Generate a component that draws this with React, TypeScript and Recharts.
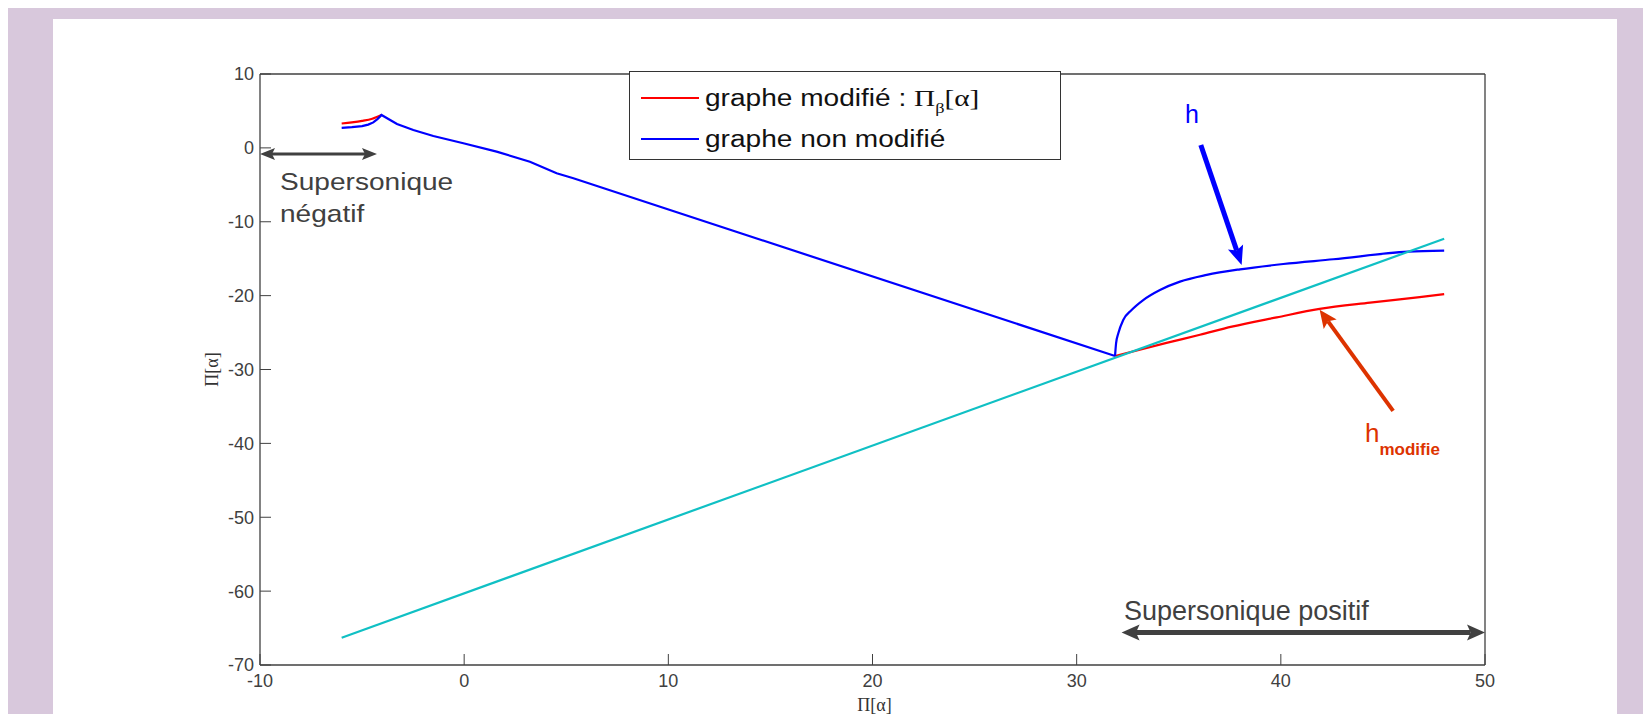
import { LineChart, Line, XAxis, YAxis, ReferenceLine, ReferenceDot } from 'recharts';

// axes
const xTicks = [-10, 0, 10, 20, 30, 40, 50];
const yTicks = [-70, -60, -50, -40, -30, -20, -10, 0, 10];

// graphe non modifié (blue): left part and branch after the cusp
const blueLeftX = [-6, -5.5, -5, -4.7, -4.45, -4.25, -4.1, -4.05, -3.29, -2.49, -1.51, -0.04, 1.59, 3.22, 4.53, 5.35, 31.88];
const blueLeftY = [2.7, 2.8, 2.95, 3.15, 3.45, 3.9, 4.3, 4.45, 3.23, 2.42, 1.61, 0.62, -0.51, -1.87, -3.44, -4.12, -28.17];
const blueRightX = [31.88, 31.93, 32.04, 32.28, 32.69, 33.26, 34.08, 35.06, 36.37, 38.0, 40.12, 42.57, 46.24, 48];
const blueRightY = [-28.17, -26.46, -25.1, -23.3, -21.95, -20.6, -19.24, -18.11, -17.2, -16.44, -15.72, -15.08, -14.05, -13.9];

// graphe modifié (red): the middle part is hidden under the blue one
const redLeftX = [-6, -5.5, -5, -4.5, -4.05];
const redLeftY = [3.3, 3.45, 3.65, 3.95, 4.45];
const redRightX = [31.88, 34.4, 36.04, 37.6, 39.8, 41.9, 44.37, 46.8, 48];
const redRightY = [-28.17, -26.4, -25.3, -24.2, -22.94, -21.8, -20.95, -20.2, -19.8];

// droite (cyan)
const cyanX = [-6, 48];
const cyanY = [-66.3, -12.3];

const zip = (xs: number[], ys: number[]) => xs.map((x, i) => ({ x, y: ys[i] }));

const GREY = '#404040';
const RED = '#ff0000';
const BLUE = '#0000ff';
const SANS = '"Liberation Sans", Arial, sans-serif';
const SERIF = '"Liberation Serif", "Times New Roman", serif';

function arrowShape(color: string, width: number, head: number, half: number, both: boolean) {
  return (p: any) => {
    const { x1, y1, x2, y2 } = p;
    const dx = x2 - x1;
    const dy = y2 - y1;
    const len = Math.hypot(dx, dy) || 1;
    const ux = dx / len;
    const uy = dy / len;
    const nx = -uy;
    const ny = ux;
    const tri = (tx: number, ty: number, dir: number) => {
      const bx = tx - dir * ux * head;
      const by = ty - dir * uy * head;
      const mx = tx - dir * ux * head * 0.8;
      const my = ty - dir * uy * head * 0.8;
      return `${tx},${ty} ${bx + nx * half},${by + ny * half} ${mx},${my} ${bx - nx * half},${by - ny * half}`;
    };
    const sx = both ? x1 + ux * head * 0.8 : x1;
    const sy = both ? y1 + uy * head * 0.8 : y1;
    return (
      <g>
        <line x1={sx} y1={sy} x2={x2 - ux * head * 0.8} y2={y2 - uy * head * 0.8} stroke={color} strokeWidth={width} />
        <polygon points={tri(x2, y2, 1)} fill={color} />
        {both && <polygon points={tri(x1, y1, -1)} fill={color} />}
      </g>
    );
  };
}

const textShape = (lines: string[], color: string, size: number, stretch: number) => (p: any) => (
  <g transform={`translate(${p.cx},${p.cy}) scale(${stretch},1)`}>
    {lines.map((t, i) => (
      <text key={i} x={0} y={i * 32} fill={color} fontSize={size} fontFamily={SANS}>
        {t}
      </text>
    ))}
  </g>
);

const hModifShape = (p: any) => (
  <text x={p.cx} y={p.cy} fill="#dd3300" fontFamily={SANS}>
    <tspan fontSize={26}>h</tspan>
    <tspan fontSize={17} fontWeight="bold" dy={13}>modifie</tspan>
  </text>
);

const xLabel = ({ viewBox }: any) => (
  <text x={viewBox.x + viewBox.width / 2 + 2} y={viewBox.y + 46} textAnchor="middle" fill="#333" fontSize={18} fontFamily={SERIF}>
    Π[α]
  </text>
);

const yLabel = ({ viewBox }: any) => {
  const cx = viewBox.x + 12;
  const cy = viewBox.y + viewBox.height / 2;
  return (
    <text x={cx} y={cy} transform={`rotate(-90 ${cx} ${cy})`} textAnchor="middle" dominantBaseline="central" fill="#333" fontSize={18} fontFamily={SERIF}>
      Π[α]
    </text>
  );
};

function LegendBox() {
  const row = (color: string, top: number, content: any) => (
    <div style={{ position: 'absolute', left: 0, top, height: 30 }}>
      <div style={{ position: 'absolute', left: 11, top: 14, width: 58, height: 2, background: color }} />
      <div style={{ position: 'absolute', left: 75, top: 0, whiteSpace: 'nowrap', fontFamily: SANS, fontSize: 23, lineHeight: '30px', color: '#111', transform: 'scaleX(1.22)', transformOrigin: 'left center' }}>
        {content}
      </div>
    </div>
  );
  return (
    <div style={{ position: 'absolute', left: 629, top: 71, width: 432, height: 89, boxSizing: 'border-box', border: '1px solid #333', background: '#fff' }}>
      {row(RED, 11, (
        <span>
          graphe modifié : <span style={{ fontFamily: SERIF, fontSize: 24 }}>Π</span>
          <span style={{ fontFamily: SERIF, fontSize: 15, verticalAlign: -7 }}>β</span>
          <span style={{ fontFamily: SERIF, fontSize: 24 }}>[α]</span>
        </span>
      ))}
      {row(BLUE, 52, <span>graphe non modifié</span>)}
    </div>
  );
}

export default function App() {
  return (
    <div style={{ position: 'relative', width: 1651, height: 722, margin: -8, background: '#d8c8dc', overflow: 'hidden' }}>
      <div style={{ position: 'absolute', left: 53, top: 19, width: 1564, height: 703, background: '#fff' }} />
      <div style={{ position: 'absolute', left: 0, top: 0 }}>
        <LineChart width={1651} height={722} margin={{ top: 73, right: 165, bottom: 11, left: 200 }}>
          <XAxis
            dataKey="x"
            type="number"
            domain={[-10, 50]}
            ticks={xTicks}
            interval={0}
            allowDataOverflow
            height={46}
            tickSize={-11}
            tickMargin={20}
            axisLine={{ stroke: GREY, strokeWidth: 1.3 }}
            tickLine={{ stroke: GREY }}
            tick={{ fill: GREY, fontSize: 18, fontFamily: SANS }}
            label={xLabel}
          />
          <XAxis xAxisId="t" orientation="top" type="number" domain={[-10, 50]} ticks={xTicks} interval={0} height={1} tickSize={-11} tick={false} axisLine={{ stroke: GREY, strokeWidth: 1.3 }} tickLine={{ stroke: GREY }} />
          <YAxis
            type="number"
            domain={[-70, 10]}
            ticks={yTicks}
            interval={0}
            allowDataOverflow
            width={60}
            tickSize={-11}
            tickMargin={17}
            axisLine={{ stroke: GREY, strokeWidth: 1.3 }}
            tickLine={{ stroke: GREY }}
            tick={{ fill: GREY, fontSize: 18, fontFamily: SANS }}
            label={yLabel}
          />
          <YAxis yAxisId="r" orientation="right" type="number" domain={[-70, 10]} ticks={yTicks} interval={0} width={1} tickSize={-11} tick={false} axisLine={{ stroke: GREY, strokeWidth: 1.3 }} tickLine={{ stroke: GREY }} />

          <Line data={zip(redLeftX, redLeftY)} dataKey="y" type="monotoneX" stroke={RED} strokeWidth={2.2} dot={false} isAnimationActive={false} />
          <Line data={zip(redRightX, redRightY)} dataKey="y" type="monotoneX" stroke={RED} strokeWidth={2.2} dot={false} isAnimationActive={false} />
          <Line data={zip(blueLeftX, blueLeftY)} dataKey="y" type="linear" stroke={BLUE} strokeWidth={2.2} dot={false} isAnimationActive={false} />
          <Line data={zip(blueRightX, blueRightY)} dataKey="y" type="monotoneX" stroke={BLUE} strokeWidth={2.2} dot={false} isAnimationActive={false} />
          <Line data={zip(cyanX, cyanY)} dataKey="y" type="linear" stroke="#10c0c4" strokeWidth={2.2} dot={false} isAnimationActive={false} />

          <ReferenceLine segment={[{ x: -10, y: -0.83 }, { x: -4.27, y: -0.83 }]} ifOverflow="visible" shape={arrowShape(GREY, 3, 15, 6, true)} />
          <ReferenceLine segment={[{ x: 32.2, y: -65.6 }, { x: 50, y: -65.6 }]} ifOverflow="visible" shape={arrowShape(GREY, 5, 18, 8, true)} />
          <ReferenceLine segment={[{ x: 36.08, y: 0.39 }, { x: 38.08, y: -15.85 }]} ifOverflow="visible" shape={arrowShape(BLUE, 5, 19, 8, false)} />
          <ReferenceLine segment={[{ x: 45.5, y: -35.6 }, { x: 41.9, y: -21.9 }]} ifOverflow="visible" shape={arrowShape('#dd3300', 4, 18, 8, false)} />

          <ReferenceDot x={-9.02} y={-5.7} ifOverflow="visible" shape={textShape(['Supersonique', 'négatif'], GREY, 24, 1.17)} />
          <ReferenceDot x={32.32} y={-63.9} ifOverflow="visible" shape={textShape(['Supersonique positif'], GREY, 27, 1.0)} />
          <ReferenceDot x={35.3} y={3.37} ifOverflow="visible" shape={textShape(['h'], BLUE, 25, 1.0)} />
          <ReferenceDot x={44.12} y={-39.8} ifOverflow="visible" shape={hModifShape} />
        </LineChart>
      </div>
      <LegendBox />
    </div>
  );
}
